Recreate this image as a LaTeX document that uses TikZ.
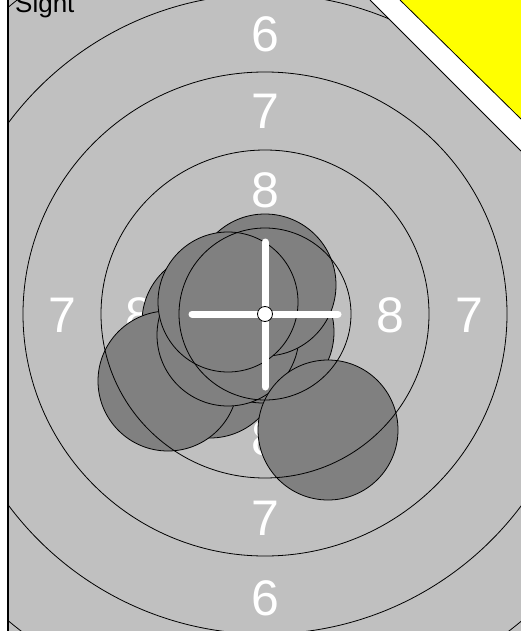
\documentclass[tikz,border=0pt]{standalone}
\usepackage{fontspec}
\setmainfont{Liberation Sans}
\definecolor{targetgray}{HTML}{C0C0C0}
\definecolor{holegray}{HTML}{808080}
\definecolor{cornery}{HTML}{FFFF00}
\begin{document}
\begin{tikzpicture}[x=1pt,y=-1pt,
  ring/.style={draw=black,line width=0.8pt},
  hole/.style={fill=holegray,draw=black,line width=0.8pt},
  digit/.style={text=white,font=\fontsize{50}{50}\selectfont,inner sep=0pt,anchor=base},
  hair/.style={draw=white,line width=7pt,line cap=round}]
\useasboundingbox (0,0) rectangle (521,631);
\fill[white] (0,0) rectangle (521,631);
\coordinate (c) at (265,314);
\begin{scope}
  \clip (8,0) -- (370,0) -- (521,151) -- (521,631) -- (8,631) -- cycle;
  \fill[targetgray] (8,0) rectangle (521,631);
  % ring numbers
  \node[digit] (t6) at (265,51.5) {6};
  \node[digit] (t7) at (265,129) {7};
  \node[digit] (t8) at (265,207) {8};
  \node[digit] (l7) at (62,332) {7};
  \node[digit] (l8) at (139,332) {8};
  \node[digit] (r8) at (390,332) {8};
  \node[digit] (r7) at (469,332) {7};
  \node[digit] (b8) at (265,455) {8};
  \node[digit] (b7) at (265,535) {7};
  \node[digit] (b6) at (265,615.5) {6};
  % shot holes
  \path[hole] (212,322) circle[radius=70];
  \path[hole] (210,368) circle[radius=70];
  \path[hole] (263,332) circle[radius=71];
  \path[hole] (168,381) circle[radius=70];
  \path[hole] (228,335) circle[radius=71];
  \path[hole] (265,285) circle[radius=71];
  \path[hole] (228,302) circle[radius=70];
  \path[hole] (328,430) circle[radius=70];
  % rings
  \draw[ring] (c) circle[radius=86];
  \draw[ring] (c) circle[radius=164];
  \draw[ring] (c) circle[radius=242];
  \draw[ring] (c) circle[radius=320];
  \draw[ring] (c) circle[radius=400];
\end{scope}
% top right corner
\fill[cornery] (400,0) -- (521,0) -- (521,119) -- cycle;
\coordinate (ya) at (400,0);
\coordinate (yb) at (521,119);
\coordinate (ga) at (370,0);
\coordinate (gb) at (521,151);
\draw[line width=0.8pt] (ya) -- (yb);
\draw[line width=0.8pt] (ga) -- (gb);
% left border
\coordinate (lt) at (8,0);
\coordinate (lb) at (8,631);
\draw[line width=1.6pt] (lt) -- (lb);
% crosshair
\coordinate (hl) at (192,314);
\coordinate (hr) at (338,314);
\coordinate (vt) at (265,242);
\coordinate (vb) at (265,387);
\draw[hair] (hl) -- (hr);
\draw[hair] (vt) -- (vb);
\node[circle,fill=white,draw=black,line width=0.8pt,minimum size=15pt,inner sep=0pt] (dot) at (c) {};
% label
\node[font=\fontsize{26}{26}\selectfont,anchor=base west,inner sep=0pt] (sight) at (15,13) {Sight};
\end{tikzpicture}
\end{document}
